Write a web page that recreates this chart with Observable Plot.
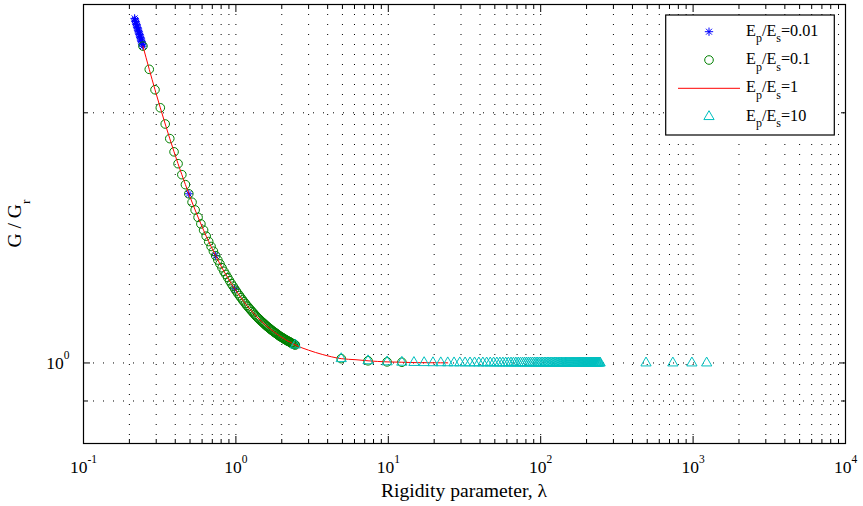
<!DOCTYPE html>
<html><head><meta charset="utf-8">
<script src="https://cdn.jsdelivr.net/npm/d3@7"></script>
<script src="https://cdn.jsdelivr.net/npm/@observablehq/plot@0.6"></script>
<style>html,body{margin:0;padding:0;background:#fff;} #chart{width:863px;height:506px;}</style>
</head><body><div id="chart"></div>
<script>
// ---------------- data ----------------
const seriesNames = ["0.01", "0.1", "1", "10"];

const starLam = [0.2165, 0.2180, 0.2195, 0.2210, 0.2225, 0.2240, 0.2255, 0.2270, 0.2285, 0.2300,
  0.2315, 0.2330, 0.2345, 0.2360, 0.2375, 0.2390, 0.2405, 0.2420, 0.2435, 0.2455, 0.491, 0.7365, 0.982];
const starG = [2.598, 2.587, 2.576, 2.565, 2.555, 2.544, 2.534, 2.524, 2.514, 2.504,
  2.494, 2.484, 2.474, 2.465, 2.455, 2.446, 2.436, 2.427, 2.418, 2.406, 1.598, 1.346, 1.228];

const circleLam = [0.2455, 0.27005, 0.2946, 0.31915, 0.3437, 0.36825, 0.3928, 0.41735, 0.4419, 0.46645,
  0.491, 0.51555, 0.5401, 0.56465, 0.5892, 0.61375, 0.6383, 0.66285, 0.6874, 0.71195,
  0.7365, 0.76105, 0.7856, 0.81015, 0.8347, 0.85925, 0.8838, 0.90835, 0.9329, 0.95745,
  0.982, 1.00655, 1.0311, 1.05565, 1.0802, 1.10475, 1.1293, 1.15385, 1.1784, 1.20295,
  1.2275, 1.25205, 1.2766, 1.30115, 1.3257, 1.35025, 1.3748, 1.39935, 1.4239, 1.44845,
  1.473, 1.49755, 1.5221, 1.54665, 1.5712, 1.59575, 1.6203, 1.64485, 1.6694, 1.69395,
  1.7185, 1.74305, 1.7676, 1.79215, 1.8167, 1.84125, 1.8658, 1.89035, 1.9149, 1.93945,
  1.964, 1.98855, 2.0131, 2.03765, 2.0622, 2.08675, 2.1113, 2.13585, 2.1604, 2.18495,
  2.2095, 2.23405, 2.2586, 2.28315, 2.3077, 2.33225, 2.3568, 2.38135, 2.4059, 2.43045,
  2.455, 4.91, 7.365, 9.82, 12.275];
const circleG = [2.406, 2.256, 2.132, 2.028, 1.939, 1.862, 1.795, 1.737, 1.685, 1.639,
  1.598, 1.561, 1.528, 1.497, 1.470, 1.445, 1.421, 1.400, 1.381, 1.363,
  1.346, 1.330, 1.316, 1.302, 1.289, 1.278, 1.267, 1.256, 1.246, 1.237,
  1.228, 1.220, 1.212, 1.205, 1.198, 1.191, 1.185, 1.179, 1.173, 1.168,
  1.163, 1.158, 1.153, 1.149, 1.144, 1.140, 1.136, 1.132, 1.129, 1.125,
  1.122, 1.119, 1.116, 1.113, 1.110, 1.107, 1.105, 1.102, 1.100, 1.097,
  1.095, 1.093, 1.091, 1.088, 1.087, 1.085, 1.083, 1.081, 1.079, 1.077,
  1.076, 1.074, 1.073, 1.071, 1.070, 1.068, 1.067, 1.066, 1.064, 1.063,
  1.062, 1.061, 1.060, 1.058, 1.057, 1.056, 1.055, 1.054, 1.053, 1.052,
  1.051, 1.012, 1.006, 1.003, 1.002];

const lineLam = [0.2455, 0.27005, 0.2946, 0.3437, 0.3928, 0.4419, 0.491, 0.5401, 0.5892, 0.6383,
  0.6874, 0.7365, 0.7856, 0.8347, 0.8838, 0.9329, 0.982, 1.0802, 1.1784, 1.2766,
  1.3748, 1.473, 1.5712, 1.6694, 1.7676, 1.8658, 1.964, 2.0622, 2.1604, 2.2586,
  2.3568, 2.455, 3.0, 3.683, 4.91, 6.14, 7.365, 9.82, 12.275, 14.73, 19.64, 24.55];
const lineG = [2.406, 2.256, 2.132, 1.939, 1.795, 1.685, 1.598, 1.528, 1.470, 1.421,
  1.381, 1.346, 1.316, 1.289, 1.267, 1.246, 1.228, 1.198, 1.173, 1.153,
  1.136, 1.122, 1.110, 1.100, 1.091, 1.083, 1.076, 1.070, 1.064, 1.060,
  1.055, 1.051, 1.036, 1.024, 1.012, 1.009, 1.006, 1.003, 1.002, 1.001, 1.0006, 1.0003];

const triLam = [2.455, 4.91, 7.365, 9.82, 12.275, 14.73, 17.185, 19.64, 22.095, 24.55,
  27.005, 29.46, 31.915, 34.37, 36.825, 39.28, 41.735, 44.19, 46.645, 49.1,
  51.555, 54.01, 56.465, 58.92, 61.375, 63.83, 66.285, 68.74, 71.195, 73.65,
  76.105, 78.56, 81.015, 83.47, 85.925, 88.38, 90.835, 93.29, 95.745, 98.2,
  100.655, 103.11, 105.565, 108.02, 110.475, 112.93, 115.385, 117.84, 120.295, 122.75,
  125.205, 127.66, 130.115, 132.57, 135.025, 137.48, 139.935, 142.39, 144.845, 147.3,
  149.755, 152.21, 154.665, 157.12, 159.575, 162.03, 164.485, 166.94, 169.395, 171.85,
  174.305, 176.76, 179.215, 181.67, 184.125, 186.58, 189.035, 191.49, 193.945, 196.4,
  198.855, 201.31, 203.765, 206.22, 208.675, 211.13, 213.585, 216.04, 218.495, 220.95,
  223.405, 225.86, 228.315, 230.77, 233.225, 235.68, 238.135, 240.59, 243.045, 245.5,
  491, 736.5, 982, 1227.5];
const triG = [1.051, 1.012, 1.006, 1.003, 1.002, 1.0013, 1.0009, 1.0006, 1.0005, 1.0004,
  1.0003, 1.0003, 1.0002, 1.0002, 1.0002, 1.0001, 1.0001, 1.0001, 1.0001, 1.0001,
  1.000, 1.000, 1.000, 1.000, 1.000, 1.000, 1.000, 1.000, 1.000, 1.000,
  1.000, 1.000, 1.000, 1.000, 1.000, 1.000, 1.000, 1.000, 1.000, 1.000,
  1.000, 1.000, 1.000, 1.000, 1.000, 1.000, 1.000, 1.000, 1.000, 1.000,
  1.000, 1.000, 1.000, 1.000, 1.000, 1.000, 1.000, 1.000, 1.000, 1.000,
  1.000, 1.000, 1.000, 1.000, 1.000, 1.000, 1.000, 1.000, 1.000, 1.000,
  1.000, 1.000, 1.000, 1.000, 1.000, 1.000, 1.000, 1.000, 1.000, 1.000,
  1.000, 1.000, 1.000, 1.000, 1.000, 1.000, 1.000, 1.000, 1.000, 1.000,
  1.000, 1.000, 1.000, 1.000, 1.000, 1.000, 1.000, 1.000, 1.000, 1.000,
  1.000, 1.000, 1.000, 1.000];

const xMajor = [0.1, 1, 10, 100, 1000, 10000];
const xMajorLabels = ["10^-1", "10^0", "10^1", "10^2", "10^3", "10^4"];
const xMinor = [0.2, 0.3, 0.4, 0.5, 0.6, 0.7, 0.8, 0.9,
  2, 3, 4, 5, 6, 7, 8, 9,
  20, 30, 40, 50, 60, 70, 80, 90,
  200, 300, 400, 500, 600, 700, 800, 900,
  2000, 3000, 4000, 5000, 6000, 7000, 8000, 9000];
const yMajor = [1];
const yMajorLabels = ["10^0"];
const yMinor = [0.9, 2];
const yGridMinor = [0.8, 0.9, 2];
const xTitle = "Rigidity parameter, λ";
const yTitleMain = "G / G";
const yTitleSub = "r";

// ---------------- layout ----------------
const W = 863, H = 506, ML = 83, MR = 18, MT = 4, MB = 63;
const FONT = "Liberation Serif";
const C_STAR = "#0000ff", C_CIRC = "#008000", C_LINE = "#ff0000", C_TRI = "#00bfbf";
const R_STAR = 2.8, R_CIRC = 4.3, R_TRI = 3.8;

const zip = (a, b) => a.map((v, i) => ({lam: v, g: b[i]}));
const stars = zip(starLam, starG);
const circles = zip(circleLam, circleG);
const line = zip(lineLam, lineG);
const tris = zip(triLam, triG);

const dotted = {stroke: "black", strokeWidth: 1, strokeDasharray: "1,9"};
const blank = () => "";

const chart = Plot.plot({
  width: W, height: H,
  marginLeft: ML, marginRight: MR, marginTop: MT, marginBottom: MB,
  style: {fontFamily: FONT, fontSize: "17.5px", color: "black", background: "white"},
  x: {type: "log", domain: [0.1, 10000], label: null},
  y: {type: "log", domain: [0.8, 2.7], label: null},
  marks: [
    Plot.ruleX([...xMajor, ...xMinor], dotted),
    Plot.ruleY([...yMajor, ...yGridMinor], dotted),
    Plot.dot(stars, {x: "lam", y: "g", symbol: "plus", r: R_STAR, stroke: C_STAR, strokeWidth: 1}),
    Plot.dot(stars, {x: "lam", y: "g", symbol: "times", r: R_STAR, stroke: C_STAR, strokeWidth: 1}),
    Plot.dot(circles, {x: "lam", y: "g", symbol: "circle", r: R_CIRC, stroke: C_CIRC, fill: "none", strokeWidth: 1}),
    Plot.line(line, {x: "lam", y: "g", stroke: C_LINE, strokeWidth: 1, curve: "monotone-x"}),
    Plot.dot(tris, {x: "lam", y: "g", symbol: "triangle", r: R_TRI, stroke: C_TRI, fill: "none", strokeWidth: 1}),
    Plot.frame({stroke: "black", strokeWidth: 1.2}),
    // ticks (inward)
    Plot.axisX(xMajor, {anchor: "bottom", tickSize: -7, tickFormat: blank, label: null}),
    Plot.axisX(xMinor, {anchor: "bottom", tickSize: -4, tickFormat: blank, label: null}),
    Plot.axisX(xMajor, {anchor: "top", tickSize: -7, tickFormat: blank, label: null}),
    Plot.axisX(xMinor, {anchor: "top", tickSize: -4, tickFormat: blank, label: null}),
    Plot.axisY(yMajor, {anchor: "left", tickSize: -7, tickFormat: blank, label: null}),
    Plot.axisY(yMinor, {anchor: "left", tickSize: -5, tickFormat: blank, label: null}),
    Plot.axisY(yMajor, {anchor: "right", tickSize: -7, tickFormat: blank, label: null}),
    Plot.axisY(yMinor, {anchor: "right", tickSize: -5, tickFormat: blank, label: null}),
    // tick labels
    Plot.axisX(xMajor, {anchor: "bottom", tickSize: 0, tickPadding: 17, label: null,
      tickFormat: d => xMajorLabels[xMajor.indexOf(d)]}),
    Plot.axisY(yMajor, {anchor: "left", tickSize: 0, tickPadding: 14, label: null,
      tickFormat: d => yMajorLabels[yMajor.indexOf(d)]})
  ]
});
document.getElementById("chart").appendChild(chart);

// ---------------- post-processing: superscripts, titles, legend ----------------
const svg = d3.select(chart);
svg.selectAll("text").each(function () {
  const t = this.textContent;
  if (!t || !t.includes("^")) return;
  const [b, e] = t.split("^");
  const s = d3.select(this);
  s.text(b);
  s.append("tspan").attr("dy", -10).attr("font-size", 11.5).text(e);
});

const cx = ML + (W - ML - MR) / 2, cy = MT + (H - MT - MB) / 2;
svg.append("text").attr("x", cx).attr("y", 497).attr("text-anchor", "middle")
  .attr("font-family", FONT).attr("font-size", 19.6).attr("fill", "black").text(xTitle);
const yt = svg.append("text").attr("transform", `translate(21,${cy}) rotate(-90)`).attr("text-anchor", "middle")
  .attr("font-family", FONT).attr("font-size", 19.6).attr("fill", "black");
yt.append("tspan").text(yTitleMain);
yt.append("tspan").attr("dy", 9).attr("font-size", 13.5).text(yTitleSub);

// legend
const bx = W - MR - 179.3, by = MT + 11, bw = 168.6, bh = 120;
const L = svg.append("g").attr("font-family", FONT).attr("font-size", 16.2)
  .attr("text-anchor", "start").attr("fill", "black");
L.append("rect").attr("x", bx).attr("y", by).attr("width", bw).attr("height", bh)
  .attr("fill", "white").attr("stroke", "black").attr("stroke-width", 1.2);
const sym = (type, r) => d3.symbol().type(type).size(Math.PI * r * r)();
seriesNames.forEach((name, i) => {
  const ry = by + 16.7 + i * 28.3, mx = bx + 43.3;
  if (i === 0) {
    [d3.symbolPlus, d3.symbolTimes].forEach(t => L.append("path").attr("d", sym(t, R_STAR))
      .attr("transform", `translate(${mx},${ry})`).attr("fill", "none").attr("stroke", C_STAR));
  } else if (i === 1) {
    L.append("path").attr("d", sym(d3.symbolCircle, R_CIRC)).attr("transform", `translate(${mx},${ry})`)
      .attr("fill", "none").attr("stroke", C_CIRC);
  } else if (i === 2) {
    L.append("line").attr("x1", bx + 12.3).attr("x2", bx + 74.3).attr("y1", ry).attr("y2", ry)
      .attr("stroke", C_LINE);
  } else {
    L.append("path").attr("d", sym(d3.symbolTriangle, R_TRI)).attr("transform", `translate(${mx},${ry})`)
      .attr("fill", "none").attr("stroke", C_TRI);
  }
  const t = L.append("text").attr("x", bx + 80.3).attr("y", ry + 4);
  t.append("tspan").text("E");
  t.append("tspan").attr("dy", 6.5).attr("font-size", 12).text("p");
  t.append("tspan").attr("dy", -6.5).text("/E");
  t.append("tspan").attr("dy", 6.5).attr("font-size", 12).text("s");
  t.append("tspan").attr("dy", -6.5).text("=" + name);
});
</script></body></html>
